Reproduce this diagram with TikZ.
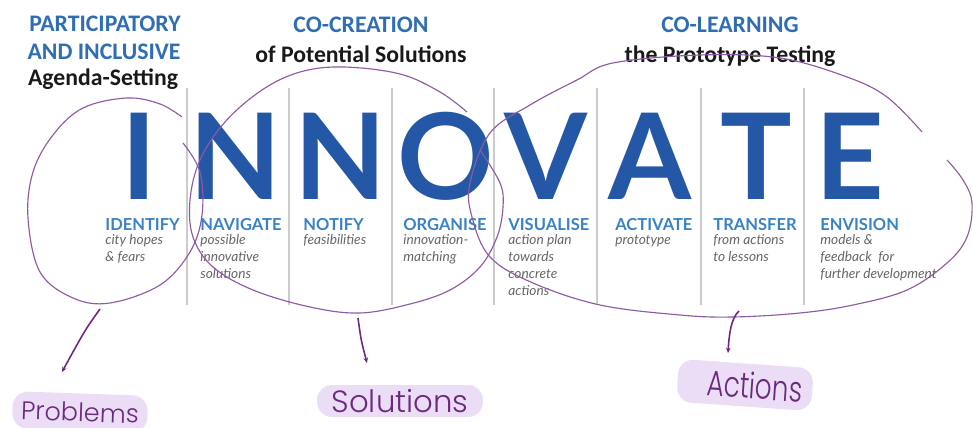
\documentclass[tikz,border=0pt]{standalone}
\usepackage{fontspec}
\usepackage{graphicx}
\setmainfont{Lato}
\newfontfamily\calib{Carlito}
\newfontfamily\hand{Poppins Light}
\usetikzlibrary{arrows.meta}
\definecolor{bigblue}{HTML}{2458A6}
\definecolor{labblue}{HTML}{3A82C6}
\definecolor{ttlblue}{HTML}{2F6DB5}
\definecolor{subgray}{HTML}{666666}
\definecolor{divgray}{HTML}{CBCBCB}
\definecolor{penline}{HTML}{8E5AA4}
\definecolor{penink}{HTML}{6A2A7E}
\definecolor{hilite}{HTML}{EBDDF6}
\begin{document}
\begin{tikzpicture}[x=0.02cm,y=-0.02cm,
  divider/.style={draw=divgray,line width=1.1pt},
  bigletter/.style={anchor=base,inner sep=0,text=bigblue,font=\bfseries\fontsize{68}{68}\selectfont},
  lab/.style={anchor=base west,inner sep=0,text=labblue,font=\bfseries\fontsize{9.4}{11}\selectfont},
  sub/.style={anchor=north west,inner sep=0,align=left,text=subgray,font=\itshape\fontsize{7.8}{9.65}\selectfont},
  ttl/.style={anchor=base,inner sep=0,text=ttlblue,font=\calib\bfseries\fontsize{13.5}{16}\selectfont},
  ttlb/.style={anchor=base,inner sep=0,text=black!90,font=\calib\bfseries\fontsize{13.5}{16}\selectfont},
  penloop/.style={draw=penline,line width=0.65pt},
  harrow/.style={draw=penink,line width=0.9pt,-{Stealth[length=3pt,width=2.6pt]}},
  hlbox/.style={fill=hilite,rounded corners=0.3cm,inner sep=0,text=penink,font=\hand}
]
\useasboundingbox (0,0) rectangle (973,428);
\clip (0,0) rectangle (973,428);

% titles
\node[ttl] (t1a) at (105,32) {PARTICIPATORY};
\node[ttl] (t1b) at (104,60) {AND INCLUSIVE};
\node[ttlb] (t1c) at (103,86) {Agenda-Setting};
\node[ttl] (t2a) at (361,33) {CO-CREATION};
\node[ttlb] (t2b) at (361,63) {of Potential Solutions};
\node[ttl] (t3a) at (730,33) {CO-LEARNING};
\node[ttlb] (t3b) at (730,63) {the Prototype Testing};

% dividers
\foreach \x [count=\i] in {187,289,392,494,597,701,804}{
  \coordinate (dt\i) at (\x,88);
  \coordinate (db\i) at (\x,305);
  \draw[divider] (dt\i) -- (db\i);
}

% big letters
\foreach \L/\x [count=\i] in {I/139,N/236,N/341,O/446,V/546,A/650,T/756,E/850}{
  \node[bigletter] (L\i) at (\x,200) {\L};
}

% labels
\node[lab] (lab1) at (105,231) {IDENTIFY};
\node[lab] (lab2) at (200,231) {NAVIGATE};
\node[lab] (lab3) at (303,231) {NOTIFY};
\node[lab] (lab4) at (403,231) {ORGANISE};
\node[lab] (lab5) at (508,231) {VISUALISE};
\node[lab] (lab6) at (615,231) {ACTIVATE};
\node[lab] (lab7) at (713,231) {TRANSFER};
\node[lab] (lab8) at (820,231) {ENVISION};

\node[sub] (sub1) at (105,232.5) {\strut city hopes\\\& fears};
\node[sub] (sub2) at (200,232.5) {\strut possible\\innovative\\solutions};
\node[sub] (sub3) at (303,232.5) {\strut feasibilities};
\node[sub] (sub4) at (403,232.5) {\strut innovation-\\matching};
\node[sub] (sub5) at (508,232.5) {\strut action plan\\towards\\concrete\\actions};
\node[sub] (sub6) at (615,232.5) {\strut prototype};
\node[sub] (sub7) at (713,232.5) {\strut from actions\\to lessons};
\node[sub] (sub8) at (820,232.5) {\strut models \&\\feedback~ for\\further development};

% hand-drawn loops
\draw[penloop] plot[smooth,tension=0.6] coordinates {(183,143) (200,172) (202,215) (190,252) (160,285) (110,303) (73,298) (40,272) (28,218) (33,172) (53,135) (83,108) (127,98) (160,104) (182,117)};
\draw[penloop] plot[smooth,tension=0.6] coordinates {(467,112) (440,92) (400,74) (343,67) (300,72) (262,90) (225,122) (200,160) (190,200) (193,237) (213,267) (253,290) (310,307) (360,313) (410,304) (450,290) (480,267) (497,237) (503,207) (500,183) (480,150)};
\draw[penloop] plot[smooth,tension=0.6] coordinates {(922,132) (887,97) (847,77) (780,58) (700,55) (613,63) (577,80) (530,105) (490,133) (470,183) (472,217) (490,257) (533,283) (600,305) (680,315) (733,317) (800,313) (853,305) (907,290) (947,263) (967,237) (972,203) (963,180) (947,160)};

% highlighted hand labels
\node[hlbox,minimum width=2.7cm,minimum height=0.74cm,rotate=-2] (prob) at (80,412) {\fontsize{14.5}{15}\selectfont Problems};
\node[hlbox,minimum width=3.32cm,minimum height=0.64cm] (sol) at (400,401) {\fontsize{17.5}{17}\selectfont Solutions};
\node[hlbox,minimum width=2.7cm,minimum height=0.86cm,rotate=-4] (act) at (745,385) {\hspace{0.4cm}\scalebox{1}[1.35]{\fontsize{15}{15}\selectfont Actions}};

% arrows
\coordinate (pa) at (100,309);
\coordinate (pb) at (62,372);
\draw[harrow] (pa) .. controls (85,330) .. (pb);
\coordinate (sa) at (358,318);
\coordinate (sb) at (367,363);
\draw[harrow] (sa) .. controls (361,340) .. (sb);
\coordinate (aa) at (739,311);
\coordinate (ab) at (728,353);
\draw[harrow] (aa) .. controls (731,318) and (729,335) .. (ab);
\end{tikzpicture}
\end{document}
